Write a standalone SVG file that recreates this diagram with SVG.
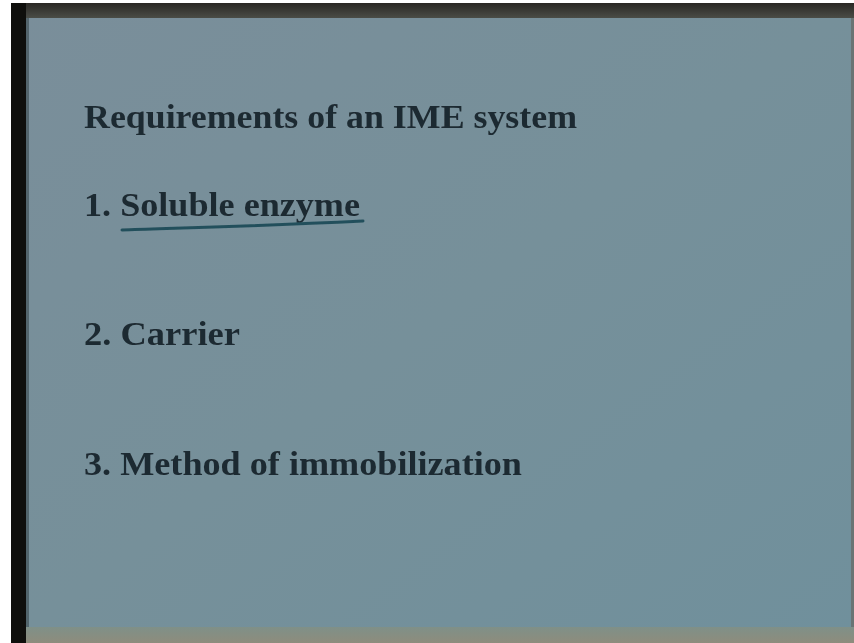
<svg xmlns="http://www.w3.org/2000/svg" width="854" height="643" viewBox="0 0 854 643">
  <defs>
    <linearGradient id="bg" x1="0" y1="0" x2="1" y2="1">
      <stop offset="0" stop-color="#7a8e9a"/>
      <stop offset="0.5" stop-color="#76909a"/>
      <stop offset="1" stop-color="#70909c"/>
    </linearGradient>
    <linearGradient id="top" x1="0" y1="0" x2="0" y2="1">
      <stop offset="0" stop-color="#2a2824"/>
      <stop offset="1" stop-color="#4a4c46"/>
    </linearGradient>
    <linearGradient id="bottom" x1="0" y1="0" x2="0" y2="1">
      <stop offset="0" stop-color="#7f9088"/>
      <stop offset="1" stop-color="#8e8c7c"/>
    </linearGradient>
    <filter id="soft" x="-5%" y="-20%" width="110%" height="140%">
      <feGaussianBlur stdDeviation="0.6"/>
    </filter>
  </defs>
  <style>
    .t { font-family: "Liberation Serif", "Times New Roman", serif; font-weight: bold; font-size: 34px; fill: #1d2930; }
  </style>
  <rect x="0" y="0" width="854" height="643" fill="#ffffff"/>
  <rect x="11" y="3" width="843" height="640" fill="url(#bg)"/>
  <rect x="11" y="3" width="843" height="15" fill="url(#top)"/>
  <rect x="11" y="627" width="843" height="16" fill="url(#bottom)"/>
  <rect x="11" y="3" width="15" height="640" fill="#0f0f0c"/>
  <rect x="26" y="18" width="3" height="609" fill="#3a4a4e" opacity="0.6"/>
  <rect x="851" y="18" width="3" height="609" fill="#6a7474"/>
  <g filter="url(#soft)">
    <g id="title">
      <text class="t" x="84" y="128" textLength="493" lengthAdjust="spacingAndGlyphs">Requirements of an IME system</text>
    </g>
    <g id="item1">
      <text class="t" x="84" y="216" textLength="276" lengthAdjust="spacingAndGlyphs">1. Soluble enzyme</text>
      <path d="M122 230 C 180 228, 260 226, 363 221" fill="none" stroke="#24505c" stroke-width="3" stroke-linecap="round"/>
    </g>
    <g id="item2">
      <text class="t" x="84" y="345" textLength="156" lengthAdjust="spacingAndGlyphs">2. Carrier</text>
    </g>
    <g id="item3">
      <text class="t" x="84" y="475" textLength="438" lengthAdjust="spacingAndGlyphs">3. Method of immobilization</text>
    </g>
  </g>
</svg>
